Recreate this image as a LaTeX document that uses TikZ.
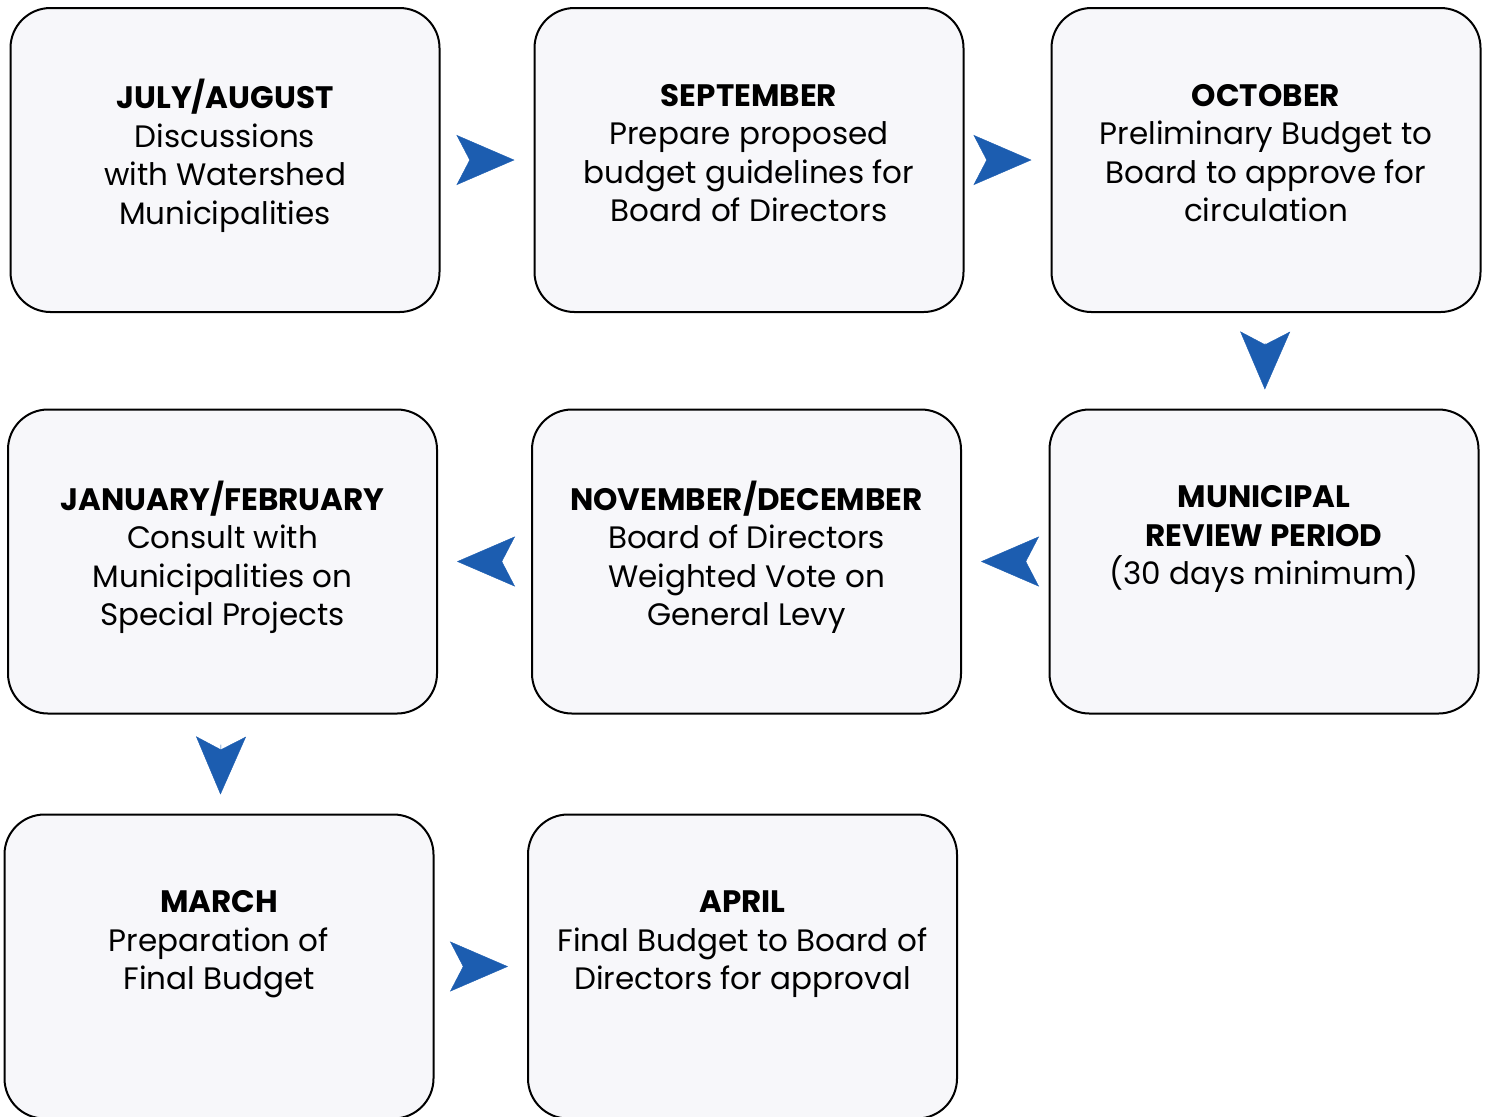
\documentclass[tikz,border=0pt]{standalone}
\usepackage{fontspec}
\setmainfont{Poppins}
\usetikzlibrary{arrows.meta,positioning}
\definecolor{boxfill}{HTML}{F7F7FA}
\definecolor{arrowblue}{HTML}{1C5DB0}

\begin{document}
\begin{tikzpicture}[x=0.5pt,y=-0.5pt]
      \tikzstyle{stage}=[draw, line width=1pt, rounded corners=20pt, fill=boxfill, minimum width=214.5pt, minimum height=152pt, inner sep=0pt]
      \tikzstyle{month}=[align=center, inner sep=0pt, font=\fontsize{15.5}{19.25}\selectfont]
      \tikzstyle{flow}=[draw=arrowblue, line width=0.2pt, -{Stealth[length=29pt,width=25pt,inset=6.5pt]}, shorten <=15pt, shorten >=9.5pt]
      \useasboundingbox (0,0) rectangle (1489,1116);

      \node[stage] (b1) at (225,160) {};
      \node[stage] (b2) at (749,160) {};
      \node[stage] (b3) at (1266,160) {};
      \node[stage] (b4) at (222.5,561.5) {};
      \node[stage] (b5) at (746.5,561.5) {};
      \node[stage] (b6) at (1264,561.5) {};
      \node[stage] (b7) at (219,966.5) {};
      \node[stage] (b8) at (742.5,966.5) {};

      \node[month, below=36pt of b1.north] (t1) {\strut\textbf{JULY/AUGUST}\\Discussions\\with Watershed\\Municipalities};
      \node[month, below=36pt of b2.north] (t2) {\strut\textbf{SEPTEMBER}\\Prepare proposed\\budget guidelines for\\Board of Directors};
      \node[month, below=36pt of b3.north] (t3) {\strut\textbf{OCTOBER}\\Preliminary Budget to\\Board to approve for\\circulation};
      \node[month, below=36pt of b4.north] (t4) {\strut\textbf{JANUARY/FEBRUARY}\\Consult with\\Municipalities on\\Special Projects};
      \node[month, below=36pt of b5.north] (t5) {\strut\textbf{NOVEMBER/DECEMBER}\\Board of Directors\\Weighted Vote on\\General Levy};
      \node[month, below=36pt of b6.north] (t6) {\strut\textbf{MUNICIPAL}\\\textbf{REVIEW PERIOD}\\(30 days minimum)};
      \node[month, below=36pt of b7.north] (t7) {\strut\textbf{MARCH}\\Preparation of\\Final Budget};
      \node[month, below=36pt of b8.north] (t8) {\strut\textbf{APRIL}\\Final Budget to Board of\\Directors for approval};

      \draw[flow] (b1) -- (b2);
      \draw[flow] (b2) -- (b3);
      \draw[flow] (b3) -- (b6);
      \draw[flow] (b6) -- (b5);
      \draw[flow] (b5) -- (b4);
      \draw[flow] (b4) -- (b7);
      \draw[flow] (b7) -- (b8);
    \end{tikzpicture}
\end{document}
